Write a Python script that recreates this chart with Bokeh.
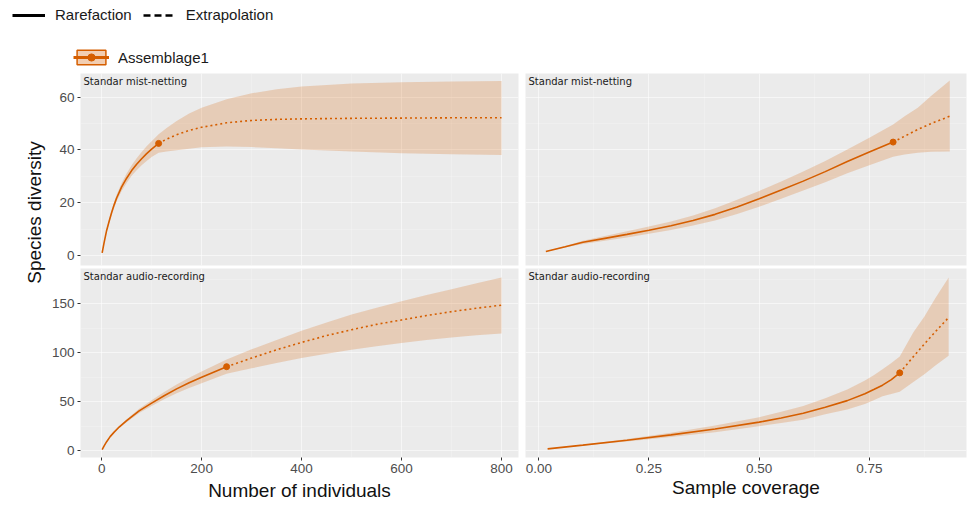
from bokeh.plotting import figure
from bokeh.layouts import row, column
from bokeh.models import (Range1d, FixedTicker, Label, Legend, LegendItem,
                          NumeralTickFormatter)
from bokeh.embed import file_html
from bokeh.resources import INLINE

ORANGE = "#D55E00"
PANEL_BG = "#EBEBEB"
TFONT = "Liberation Sans"

# ---------------- data ----------------
# Standar mist-netting, size based (Number of individuals)
mn_rare_n = [1, 5, 10, 15, 20, 25, 30, 40, 50, 60, 70, 80, 90, 100, 114]
mn_rare_s = [1.0, 5.0, 9.5, 13.0, 16.3, 19.2, 21.8, 26.0, 29.3, 32.2, 34.6, 36.7, 38.6, 40.3, 42.5]
mn_rare_lo = [1.0, 4.8, 9.0, 12.3, 15.4, 18.1, 20.6, 24.5, 27.5, 30.2, 32.3, 34.2, 35.8, 37.3, 39.0]
mn_rare_hi = [1.0, 5.2, 10.0, 13.7, 17.2, 20.3, 23.0, 27.5, 31.1, 34.2, 36.9, 39.2, 41.4, 43.3, 46.0]
mn_ext_n = [114, 130, 150, 175, 200, 250, 300, 350, 400, 500, 600, 700, 800]
mn_ext_s = [42.5, 44.1, 45.8, 47.4, 48.6, 50.3, 51.2, 51.6, 51.8, 52.0, 52.1, 52.2, 52.2]
mn_ext_lo = [39.0, 39.4, 39.9, 40.5, 41.0, 41.3, 41.1, 40.7, 40.2, 39.4, 38.8, 38.4, 38.1]
mn_ext_hi = [46.0, 48.3, 51.0, 53.8, 56.0, 59.2, 61.5, 63.0, 64.1, 65.2, 65.7, 66.0, 66.2]

# Standar audio-recording, size based
ar_rare_n = [1, 5, 10, 17, 25, 35, 50, 75, 100, 125, 150, 175, 200, 225, 250]
ar_rare_s = [1.0, 4.8, 9.0, 14.2, 18.8, 24.0, 30.5, 40.5, 48.5, 56.0, 63.0, 69.2, 74.8, 80.3, 85.7]
ar_rare_lo = [1.0, 4.7, 8.7, 13.7, 18.1, 23.0, 29.0, 38.4, 45.6, 52.3, 58.5, 63.9, 68.8, 73.6, 78.4]
ar_rare_hi = [1.0, 4.9, 9.3, 14.7, 19.5, 25.0, 32.0, 42.6, 51.4, 59.7, 67.5, 74.5, 80.8, 87.0, 93.0]
ar_ext_n = [250, 300, 350, 400, 450, 500, 550, 600, 650, 700, 750, 800]
ar_ext_s = [85.7, 94.5, 103.0, 110.5, 117.5, 123.5, 129.0, 133.5, 138.0, 142.0, 145.5, 148.6]
ar_ext_lo = [78.4, 84.0, 89.5, 94.5, 99.0, 103.0, 106.5, 110.0, 113.0, 115.5, 117.8, 119.7]
ar_ext_hi = [93.0, 103.5, 113.0, 122.5, 131.0, 139.0, 146.0, 152.5, 159.0, 165.0, 171.0, 177.0]

# Standar mist-netting, coverage based
mc_rare_c = [0.016, 0.06, 0.10, 0.15, 0.20, 0.25, 0.30, 0.35, 0.40, 0.45, 0.50,
             0.55, 0.60, 0.65, 0.70, 0.75, 0.804]
mc_rare_s = [1.5, 3.3, 5.0, 6.5, 8.0, 9.6, 11.3, 13.3, 15.6, 18.4, 21.5,
             24.8, 28.2, 31.8, 35.6, 39.2, 43.0]
mc_rare_lo = [1.4, 3.0, 4.4, 5.6, 6.8, 8.2, 9.7, 11.4, 13.3, 15.7, 18.5,
              21.5, 24.6, 27.8, 31.2, 34.2, 37.4]
mc_rare_hi = [1.6, 3.6, 5.6, 7.4, 9.2, 11.0, 12.9, 15.2, 17.9, 21.1, 24.5,
              28.1, 31.8, 35.8, 40.2, 44.6, 49.7]
mc_ext_c = [0.804, 0.83, 0.86, 0.89, 0.9325]
mc_ext_s = [43.0, 45.2, 47.8, 50.0, 52.8]
mc_ext_lo = [37.4, 38.3, 39.0, 39.3, 39.4]
mc_ext_hi = [49.7, 52.8, 56.0, 60.5, 66.3]

# Standar audio-recording, coverage based
ac_rare_c = [0.02, 0.10, 0.20, 0.30, 0.40, 0.50, 0.55, 0.60, 0.65, 0.70, 0.74,
             0.76, 0.78, 0.80, 0.819]
ac_rare_s = [1.7, 5.5, 10.5, 16.0, 22.0, 29.0, 33.2, 38.0, 44.3, 51.0, 58.0,
             62.3, 66.8, 72.5, 79.4]
ac_rare_lo = [1.6, 5.0, 9.3, 13.8, 18.7, 24.8, 28.0, 31.5, 37.0, 42.0, 47.5,
              51.3, 55.5, 57.8, 60.0]
ac_rare_hi = [1.8, 6.0, 11.8, 18.2, 25.5, 34.0, 39.5, 45.5, 53.5, 62.5, 71.5,
              77.0, 83.0, 89.5, 96.0]
ac_ext_c = [0.819, 0.85, 0.875, 0.90, 0.93]
ac_ext_s = [79.4, 96.0, 109.0, 121.5, 136.0]
ac_ext_lo = [60.0, 70.0, 78.0, 87.0, 97.0]
ac_ext_hi = [96.0, 121.0, 137.0, 156.0, 176.9]

size_ticks = [0, 200, 400, 600, 800]
size_minor = [100, 300, 500, 700]
cov_ticks = [0.0, 0.25, 0.5, 0.75]
cov_minor = [0.125, 0.375, 0.625, 0.875]
mist_ticks = [0, 20, 40, 60]
mist_minor = [10, 30, 50]
audio_ticks = [0, 50, 100, 150]
audio_minor = [25, 75, 125, 175]

panel_titles = ["Standar mist-netting", "Standar audio-recording"]
x_titles = ["Number of individuals", "Sample coverage"]
y_title = "Species diversity"
legend_labels = ["Rarefaction", "Extrapolation", "Assemblage1"]


def make_panel(width, height, xr, yr, xt, xm, yt, ym, bl, br, bb,
               show_x, show_y, title, rx, ry, rlo, rhi, ex, ey, elo, ehi,
               xfmt=None, xlabel=None, xlabel_standoff=2):
    p = figure(width=width, height=height, x_range=Range1d(*xr),
               y_range=Range1d(*yr), output_backend="svg",
               toolbar_location=None, min_border_left=bl,
               min_border_right=br, min_border_top=0, min_border_bottom=bb)
    p.background_fill_color = PANEL_BG
    p.border_fill_color = "white"
    p.outline_line_color = None
    xtick = FixedTicker(ticks=xt, minor_ticks=xm)
    ytick = FixedTicker(ticks=yt, minor_ticks=ym)
    p.xaxis.ticker = xtick
    p.yaxis.ticker = ytick
    p.xgrid.ticker = xtick
    p.ygrid.ticker = ytick
    for g in (p.xgrid, p.ygrid):
        g.grid_line_color = "white"
        g.grid_line_alpha = 0.55
        g.grid_line_width = 1
        g.minor_grid_line_color = "white"
        g.minor_grid_line_alpha = 0.35
        g.minor_grid_line_width = 0.6
    for ax in (p.xaxis, p.yaxis):
        ax.axis_line_color = None
        ax.major_tick_line_color = "#333333"
        ax.major_tick_out = 3
        ax.major_tick_in = 0
        ax.minor_tick_line_color = None
        ax.major_label_standoff = 2
        ax.major_label_text_font = TFONT
        ax.major_label_text_font_size = "13.5px"
        ax.major_label_text_color = "#4D4D4D"
    if xfmt is not None:
        p.xaxis.formatter = xfmt
    if xlabel is not None:
        p.xaxis.axis_label = xlabel
        p.xaxis.axis_label_text_font = TFONT
        p.xaxis.axis_label_text_font_size = "19px"
        p.xaxis.axis_label_text_font_style = "normal"
        p.xaxis.axis_label_text_color = "#111111"
        p.xaxis.axis_label_standoff = xlabel_standoff
    p.xaxis.visible = show_x
    p.yaxis.visible = show_y

    p.varea(x=rx + ex, y1=rlo + elo, y2=rhi + ehi, fill_color=ORANGE,
            fill_alpha=0.22)
    p.line(rx, ry, line_color=ORANGE, line_width=1.6)
    p.line(ex, ey, line_color=ORANGE, line_width=1.6, line_dash="2 3")
    p.scatter([rx[-1]], [ry[-1]], size=6, color=ORANGE)

    fh = height - bb
    p.add_layout(Label(x=3, y=fh - 7.5, x_units="screen", y_units="screen",
                       text=title, text_font="DejaVu Sans",
                       text_font_size="10px", text_color="#1A1A1A",
                       text_baseline="middle", text_align="left"))
    return p


size_xr = (-42.3, 833.9)
cov_xr = (-0.0302, 0.9705)
mist_yr = (-3.79, 69.0)
audio_yr = (-7.16, 186.1)

tl = make_panel(477, 195, size_xr, mist_yr, size_ticks, size_minor,
                mist_ticks, mist_minor, 29, 7, 3, False, True, panel_titles[0],
                mn_rare_n, mn_rare_s, mn_rare_lo, mn_rare_hi,
                mn_ext_n, mn_ext_s, mn_ext_lo, mn_ext_hi)
bl = make_panel(477, 237, size_xr, audio_yr, size_ticks, size_minor,
                audio_ticks, audio_minor, 29, 7, 48, True, True, panel_titles[1],
                ar_rare_n, ar_rare_s, ar_rare_lo, ar_rare_hi,
                ar_ext_n, ar_ext_s, ar_ext_lo, ar_ext_hi,
                xlabel=x_titles[0], xlabel_standoff=4)
tr = make_panel(443, 195, cov_xr, mist_yr, cov_ticks, cov_minor,
                mist_ticks, mist_minor, 0, 2, 3, False, False, panel_titles[0],
                mc_rare_c, mc_rare_s, mc_rare_lo, mc_rare_hi,
                mc_ext_c, mc_ext_s, mc_ext_lo, mc_ext_hi)
br = make_panel(443, 237, cov_xr, audio_yr, cov_ticks, cov_minor,
                audio_ticks, audio_minor, 0, 2, 48, True, False, panel_titles[1],
                ac_rare_c, ac_rare_s, ac_rare_lo, ac_rare_hi,
                ac_ext_c, ac_ext_s, ac_ext_lo, ac_ext_hi,
                xfmt=NumeralTickFormatter(format="0.00"),
                xlabel=x_titles[1], xlabel_standoff=1)


def blank(width, height):
    f = figure(width=width, height=height, x_range=Range1d(0, 1),
               y_range=Range1d(0, 1), output_backend="svg",
               toolbar_location=None, min_border=0)
    f.axis.visible = False
    f.grid.visible = False
    f.outline_line_color = None
    f.background_fill_color = "white"
    f.border_fill_color = "white"
    return f


ylab = blank(48, 432)
ylab.add_layout(Label(x=34, y=293, x_units="screen", y_units="screen",
                      text=y_title, text_font=TFONT, text_font_size="19px",
                      text_color="#111111", angle=90, angle_units="deg",
                      text_align="center", text_baseline="middle"))

# legend keys: renderers placed outside the visible header range
header = blank(968, 73)
off = [-10, -9]
r1 = header.line(off, off, line_color="black", line_width=3)
r2 = header.line(off, off, line_color="black", line_width=2.5, line_dash="7 4")
r3 = header.quad(left=off[:1], right=off[1:], top=off[1:], bottom=off[:1],
                 fill_color=ORANGE, fill_alpha=0.3, line_color=ORANGE,
                 line_width=1.5)
r4 = header.line(off, off, line_color=ORANGE, line_width=3)
r5 = header.scatter(off, off, size=10, color=ORANGE)

common = dict(padding=0, margin=0, border_line_color=None,
              background_fill_alpha=0, label_text_font=TFONT,
              label_text_font_size="15px", label_text_color="#1A1A1A")
leg1 = Legend(items=[LegendItem(label=legend_labels[0], renderers=[r1]),
                     LegendItem(label=legend_labels[1], renderers=[r2])],
              orientation="horizontal", location=(12, 50), glyph_width=33,
              glyph_height=16, label_height=16, label_standoff=10, spacing=11,
              **common)
leg2 = Legend(items=[LegendItem(label=legend_labels[2], renderers=[r3, r4, r5])],
              orientation="horizontal", location=(73, 7), glyph_width=36,
              glyph_height=18, label_height=18, label_standoff=9, **common)
header.add_layout(leg1)
header.add_layout(leg2)

layout = column(header, row(ylab, column(tl, bl), column(tr, br)))

open("out.html", "w").write(file_html(layout, INLINE))
